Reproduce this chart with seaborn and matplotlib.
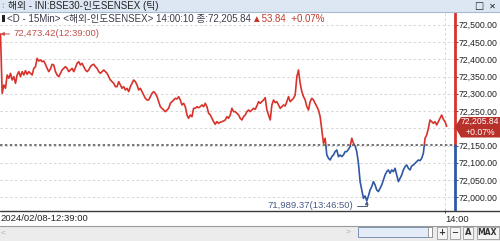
import numpy as np
import pandas as pd
import matplotlib
matplotlib.use("Agg")
import matplotlib.pyplot as plt
import matplotlib.patches as mpatches
from matplotlib.lines import Line2D
from matplotlib import font_manager as fm
import seaborn as sns

# ---------------- data ----------------
title_text = "해외 - INI:BSE30-인도SENSEX (틱)"
header_text = "<D - 15Min> <해외-인도SENSEX> 14:00:10 종:72,205.84"
change_text = "▲53.84  +0.07%"
prev_close = 72152.00
last_price = 72205.84
last_pct = "+0.07%"
max_label = "72,473.42(12:39:00)"
min_label = "71,989.37(13:46:50)"
start_label = "2024/02/08-12:39:00"
x_tick_label = "14:00"
x_tick_pos = 267
y_ticks = [72000, 72050, 72100, 72150, 72200, 72250, 72300, 72350, 72400, 72450, 72500]
hidden_tick = 72200  # covered by the current-price box

price_part1 = [
    72473.42, 72301.4, 72325.5, 72315.9, 72354.5, 72344.8, 72359.3, 72340.0, 72349.7, 72330.3,
    72354.5, 72364.2, 72349.7, 72364.2, 72354.5, 72367.1, 72356.4, 72364.2, 72359.3, 72354.5,
    72373.8, 72378.6, 72402.8, 72395.1, 72398.0, 72393.1, 72395.1, 72385.4, 72373.8, 72364.2,
    72371.9, 72385.4, 72383.5, 72364.2, 72354.5, 72349.7, 72359.3, 72369.0, 72373.8, 72378.6,
    72373.8, 72364.2, 72369.0, 72373.8, 72364.2, 72375.8, 72388.3, 72393.1, 72383.5, 72388.3,
    72378.6, 72369.0, 72364.2, 72369.0, 72378.6, 72383.5, 72385.4, 72378.6, 72373.8, 72364.2,
    72359.3, 72364.2, 72369.0, 72364.2, 72359.3, 72349.7, 72340.0, 72335.2, 72330.3, 72320.7,
]
price_part2 = [
    72320.7, 72335.2, 72325.5, 72315.9, 72320.7, 72311.0, 72315.9, 72306.2, 72320.7, 72330.3,
    72340.0, 72335.2, 72325.5, 72311.0, 72315.9, 72306.2, 72296.5, 72286.9, 72282.0, 72282.0,
    72291.7, 72301.4, 72306.2, 72301.4, 72291.7, 72277.2, 72262.7, 72257.9, 72253.1, 72248.2,
    72253.1, 72257.9, 72272.4, 72277.2, 72282.0, 72286.9, 72284.9, 72291.7, 72282.0, 72267.6,
    72272.4, 72262.7, 72238.6, 72228.9, 72238.6, 72233.7, 72257.9, 72257.9, 72262.7, 72259.8,
    72262.7, 72267.6, 72262.7, 72272.4, 72262.7, 72243.4, 72238.6, 72228.9, 72219.3, 72211.5,
    72219.3, 72214.4, 72217.3, 72219.3, 72221.2, 72224.1,
]
price_part3 = [
    72233.8, 72228.9, 72238.6, 72257.9, 72248.2, 72248.2, 72243.4, 72238.6, 72228.9, 72224.1,
    72233.8, 72238.6, 72248.2, 72253.1, 72248.2, 72253.1, 72257.9, 72255.0, 72264.7, 72277.2,
    72272.4, 72277.2, 72282.0, 72288.8, 72253.1, 72238.6, 72224.1, 72267.6, 72282.0, 72274.3,
    72277.2, 72267.6, 72257.9, 72262.7, 72267.6, 72264.7, 72277.2, 72291.7, 72277.2, 72282.0,
    72286.9, 72296.5, 72349.7, 72369.0, 72330.4, 72306.2, 72291.7, 72282.0, 72262.7, 72253.1,
    72277.2, 72286.9, 72282.0, 72272.4, 72262.7, 72253.1, 72233.8, 72195.1, 72156.4, 72171.0,
    72122.7, 72113.0, 72108.2, 72117.8, 72122.7, 72132.3,
]
price_part4 = [
    72137.1, 72117.8, 72122.6, 72117.8, 72122.6, 72132.3, 72132.3, 72139.1, 72146.8, 72171.0,
    72156.4, 72148.7, 72132.3, 72098.5, 72045.4, 72021.2, 71997.1, 72003.8, 71989.37, 72003.8,
    72021.2, 72030.9, 72045.4, 72035.7, 72021.2, 72016.4, 72026.0, 72035.7, 72050.2, 72064.7,
    72074.3, 72079.2, 72069.5, 72079.2, 72074.3, 72084.0, 72064.7, 72045.4, 72055.0, 72064.7,
    72079.2, 72088.8, 72093.7, 72084.0, 72079.2, 72090.8, 72093.7, 72098.5, 72103.3, 72108.1,
    72106.2, 72113.0, 72127.5, 72171.0, 72180.6, 72199.9, 72224.1, 72219.2, 72214.4, 72219.2,
    72209.6, 72219.2, 72228.9, 72238.5, 72226.0, 72219.2, 72205.84,
]

price = price_part1 + price_part2 + price_part3 + price_part4
df = pd.DataFrame({"tick": np.arange(len(price)), "price": price})

# ---------------- style ----------------
sns.set_theme(style="white")
installed = {f.name for f in fm.fontManager.ttflist}
latin = "Liberation Sans Narrow" if "Liberation Sans Narrow" in installed else "Liberation Sans"
FAM = [latin, "Noto Sans CJK KR", "DejaVu Sans"]
plt.rcParams["font.family"] = FAM

RED = "#d8332b"
BLUE = "#2e58a6"
W, H = 500, 241


def fx(x):
    return x / W


def fy(y):
    return 1 - y / H


fig = plt.figure(figsize=(5.0, 2.41), dpi=100)
fig.patch.set_facecolor("white")

ymax_v, ymin_v = 72537.1, 71963.1
ax = fig.add_axes([0, fy(210), fx(455), (210 - 12) / H])
ax.set_facecolor("white")

sns.lineplot(data=df, x="tick", y="price", ax=ax, color=RED, lw=1.2, errorbar=None)
red_line = ax.lines[-1]
red_line.set_clip_path(mpatches.Rectangle((-100, prev_close), 1000, 5000, transform=ax.transData))
sns.lineplot(data=df, x="tick", y="price", ax=ax, color=BLUE, lw=1.2, errorbar=None)
blue_line = ax.lines[-1]
blue_line.set_clip_path(mpatches.Rectangle((-100, prev_close - 5000), 1000, 5000, transform=ax.transData))

ax.set_xlim(-0.3, 273)
ax.set_ylim(ymin_v, ymax_v)
ax.set_xlabel("")
ax.set_ylabel("")

# grid
ax.set_yticks(y_ticks)
ax.set_yticklabels(["" if v == hidden_tick else f"{v:,.2f}" for v in y_ticks])
ax.set_xticks([x_tick_pos])
ax.set_xticklabels([x_tick_label], ha="left")
ax.grid(True, axis="both", color="#d6d6d6", linestyle=(0, (2.5, 2.5)), lw=0.7)
ax.yaxis.tick_right()
ax.tick_params(axis="y", which="both", right=True, left=False, length=2.2, width=0.7,
               color="#555555", pad=0.3, labelsize=6.3, labelcolor="#222222")
ax.tick_params(axis="x", bottom=True, length=2.5, width=0.7, color="#555555", pad=1.2,
               labelsize=6.8, labelcolor="#222222")
for lab in ax.get_xticklabels():
    lab.set_ha("left")
for s in ax.spines.values():
    s.set_visible(False)

# previous close dashed line
ax.axhline(prev_close, color="#505050", lw=1.1, linestyle=(0, (1.6, 1.6)))

# right axis coloured line
frac = (prev_close - ymin_v) / (ymax_v - ymin_v)
ax.axvline(273, ymin=frac, ymax=1, color=RED, lw=2.0, clip_on=False)
ax.axvline(273, ymin=0, ymax=frac, color=BLUE, lw=2.0, clip_on=False)

# annotations
imax = int(np.argmax(price))
imin = int(np.argmin(price))
ax.annotate(max_label, xy=(imax, price[imax]), xytext=(13, 0), textcoords="offset pixels",
            ha="left", va="center", fontsize=6.8, color="#c0504a",
            arrowprops=dict(arrowstyle="-|>", color="#c0504a", lw=0.7, mutation_scale=5,
                            shrinkA=0.5, shrinkB=0))
ax.annotate(min_label, xy=(imin, price[imin]), xytext=(-14, -5), textcoords="offset pixels",
            ha="right", va="center", fontsize=6.8, color="#4a5c86", annotation_clip=False,
            arrowprops=dict(arrowstyle="-|>", color="#4a5c86", lw=0.7, mutation_scale=5,
                            shrinkA=0.5, shrinkB=0,
                            connectionstyle="angle,angleA=0,angleB=90,rad=0"))

# ---------------- chrome ----------------
# title bar
fig.patches.append(mpatches.Rectangle((0, fy(11.5)), 1, 11.5 / H, transform=fig.transFigure,
                                      facecolor="#dce7f3", edgecolor="none", zorder=3))
fig.lines.append(Line2D([0, 1], [fy(11.5), fy(11.5)], transform=fig.transFigure,
                        color="#a9b9cf", lw=0.8, zorder=4))
fig.text(fx(1.5), fy(6), "⁞", fontsize=6, color="#8090a8", va="center", ha="left", zorder=5)
fig.text(fx(8), fy(6), title_text, fontsize=7, color="#222222", va="center", ha="left", zorder=5)
fig.text(fx(479), fy(6), "□", fontsize=7, color="#222222", va="center", ha="center",
         family=["DejaVu Sans"], zorder=5)
fig.text(fx(492), fy(6), "✕", fontsize=6, color="#222222", va="center", ha="center",
         family=["DejaVu Sans"], zorder=5)

# header row inside chart
fig.patches.append(mpatches.Rectangle((fx(2), fy(22)), fx(2.5), 7 / H, transform=fig.transFigure,
                                      facecolor="#222222", edgecolor="none", zorder=5))
fig.text(fx(7), fy(18.5), header_text, fontsize=7, color="#3a3a4a", va="center", ha="left", zorder=5)
fig.text(fx(252), fy(18.5), change_text, fontsize=7, color="#c0392b", va="center", ha="left", zorder=5)

# axis lines around x label row
fig.lines.append(Line2D([0, 1], [fy(210.5), fy(210.5)], transform=fig.transFigure,
                        color="#3c3c3c", lw=1.0, zorder=4))
fig.lines.append(Line2D([0, 1], [fy(226), fy(226)], transform=fig.transFigure,
                        color="#9a9a9a", lw=0.8, zorder=4))
fig.text(fx(0.5), fy(218.5), start_label, fontsize=6.8, color="#222222", va="center", ha="left", zorder=5)

# current price box
box = mpatches.Polygon([(fx(455), fy(127)), (fx(461), fy(117)), (fx(500), fy(117)),
                        (fx(500), fy(137.5)), (fx(461), fy(137.5))], closed=True,
                       transform=fig.transFigure, facecolor="#b8302a", edgecolor="none", zorder=6)
fig.patches.append(box)
fig.text(fx(479.5), fy(121.8), f"{last_price:,.2f}", fontsize=6.2, color="white",
         va="center", ha="center", zorder=7)
fig.text(fx(480), fy(132.3), last_pct, fontsize=6.2, color="white", va="center", ha="center", zorder=7)

# bottom scroll row
fig.patches.append(mpatches.Rectangle((0, 0), 1, (241 - 226.5) / H, transform=fig.transFigure,
                                      facecolor="#ececec", edgecolor="none", zorder=3))
fig.text(fx(3), fy(233), "<", fontsize=6, color="#b0b0b0", va="center", ha="center", zorder=5)
fig.text(fx(348), fy(232), ">", fontsize=6, color="#b0b0b0", va="center", ha="center", zorder=5)
fig.patches.append(mpatches.Rectangle((fx(358), fy(236.5)), fx(74), 9.5 / H, transform=fig.transFigure,
                                      facecolor="#e3ecf7", edgecolor="#7d94b8", lw=0.7, zorder=5))
fig.patches.append(mpatches.Rectangle((fx(428), fy(236.5)), fx(4), 9.5 / H, transform=fig.transFigure,
                                      facecolor="white", edgecolor="#8a8a8a", lw=0.6, zorder=6))
for x0, w, lab in [(437, 10, "+"), (450, 10, "−"), (463, 10, "A"), (476.5, 22, "MAX")]:
    fig.patches.append(mpatches.Rectangle((fx(x0), fy(238.5)), fx(w), 12 / H, transform=fig.transFigure,
                                          facecolor="#f5f5f5", edgecolor="#9a9a9a", lw=0.6, zorder=5))
    fig.text(fx(x0 + w / 2), fy(232.5), lab, fontsize=6 if lab != "MAX" else 5.5,
             color="#333333", fontweight="bold", va="center", ha="center",
             family=["DejaVu Sans"], zorder=6)

fig.savefig("out.png", dpi=100)
